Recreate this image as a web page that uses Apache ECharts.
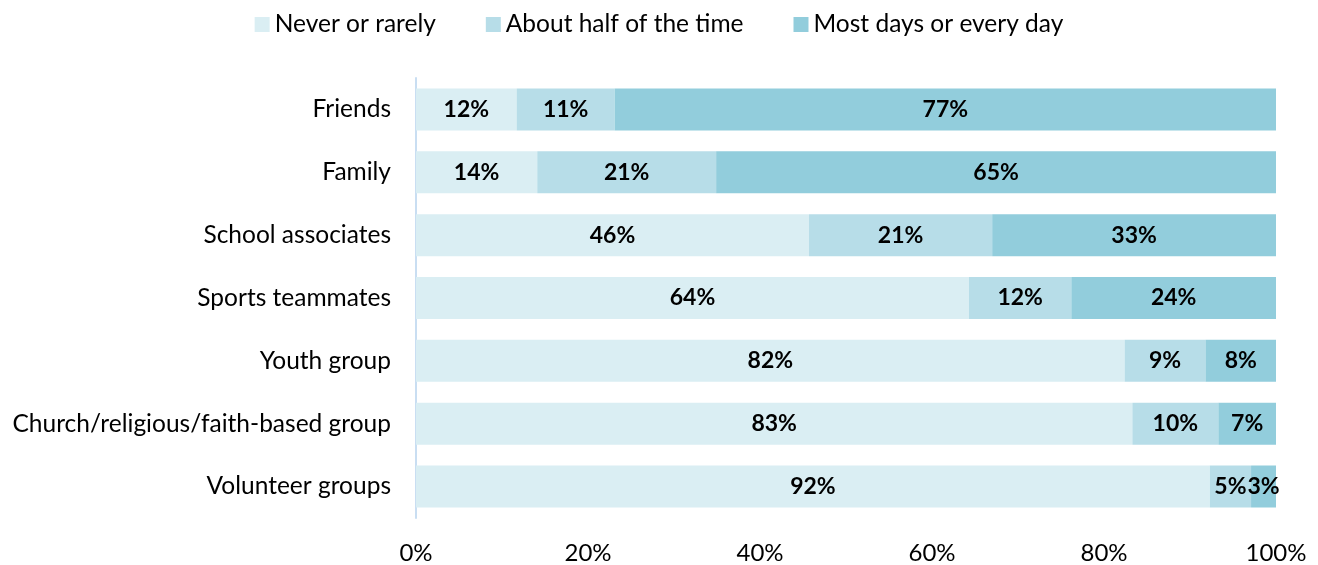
<!DOCTYPE html>
<html><head><meta charset="utf-8">
<script src="https://cdn.jsdelivr.net/npm/echarts@6/dist/echarts.min.js"></script>
<style>html,body{margin:0;padding:0;background:#fff}#c{width:1318px;height:565px}</style>
</head><body><div id="c"></div>
<script>
const categories = ["Friends","Family","School associates","Sports teammates","Youth group","Church/religious/faith-based group","Volunteer groups"];
const seriesNames = ["Never or rarely","About half of the time","Most days or every day"];
const neverRarely = [11.7, 14.1, 45.7, 64.3, 82.4, 83.3, 92.3];
const aboutHalf   = [11.4, 20.8, 21.3, 11.9, 9.4, 10.0, 4.8];
const mostDays    = [76.9, 65.1, 33.0, 23.8, 8.2, 6.7, 2.9];
const xTicks = [0, 20, 40, 60, 80, 100];
const colors = ["#DAEEF3","#B7DDE8","#92CDDC"];
const FONT = "Lato, 'Open Sans', sans-serif";
const chart = echarts.init(document.getElementById('c'));
const vals = [neverRarely, aboutHalf, mostDays];
chart.setOption({
  animation:false,
  textStyle:{fontFamily:FONT},
  legend:{top:7,left:'center',itemWidth:15,itemHeight:15,itemGap:50,itemTextGap:7,icon:'rect',
    textStyle:{fontSize:24.5,color:'#000',fontFamily:FONT},data:seriesNames},
  grid:{left:416,width:860,top:78,height:440,containLabel:false},
  xAxis:{type:'value',min:0,max:100,interval:20,
    axisLabel:{formatter:v=>xTicks.includes(v)?v+'%':'',fontSize:24,color:'#000',margin:23,fontFamily:FONT},
    splitLine:{show:false},axisLine:{show:false},axisTick:{show:false}},
  yAxis:{type:'category',inverse:true,data:categories,
    axisLabel:{fontSize:24.5,color:'#000',margin:25,fontFamily:FONT},
    axisLine:{show:true,lineStyle:{color:'#C9DEF2',width:2}},axisTick:{show:false}},
  series:seriesNames.map((n,i)=>({
    name:n,type:'bar',stack:'all',barWidth:42,
    itemStyle:{color:colors[i]},
    label:{show:true,position:'inside',fontSize:23,fontWeight:'bold',color:'#000',fontFamily:FONT,
      formatter:p=>Math.round(p.value)+'%'},
    data:vals[i]
  }))
});
</script></body></html>
